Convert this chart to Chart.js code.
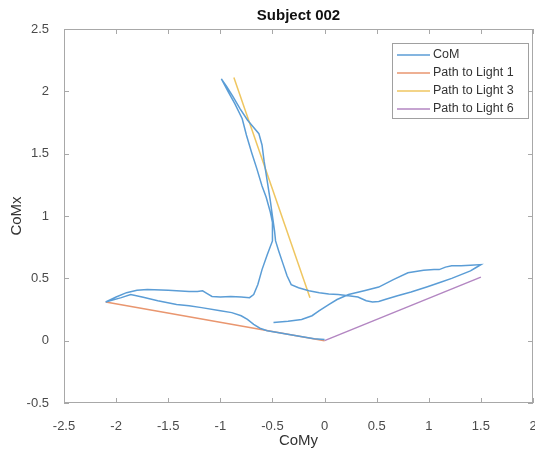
<!DOCTYPE html>
<html>
<head>
<meta charset="utf-8">
<script src="https://cdn.jsdelivr.net/npm/chart.js@4"></script>
<style>
  html, body { margin: 0; padding: 0; background: #fff; }
  #wrap { width: 535px; height: 451px; }
</style>
</head>
<body>
<div id="wrap"><canvas id="plot" width="535" height="451"></canvas></div>
<script>
// Axis ticks
const xTicks = [-2.5, -2, -1.5, -1, -0.5, 0, 0.5, 1, 1.5, 2];
const yTicks = [-0.5, 0, 0.5, 1, 1.5, 2, 2.5];

// CoM trajectory (horizontal = CoMy, vertical = CoMx)
const comMy = [
    0.0, -0.1, -0.2, -0.34, -0.45, -0.55, -0.62, -0.68, -0.74, -0.80, -0.89, -1.0, -1.18, -1.3, -1.42, -1.6, -1.75, -1.86, -1.95, -2.1,
    -2.0, -1.9, -1.8, -1.7, -1.5, -1.3, -1.22, -1.17, -1.13, -1.08, -1.0, -0.9, -0.8, -0.72, -0.68, -0.64, -0.60, -0.55, -0.50,
    -0.50, -0.52, -0.56, -0.60, -0.65, -0.70, -0.75, -0.79, -0.86, -0.92, -0.99,
    -0.94, -0.88, -0.81, -0.74, -0.68, -0.63, -0.60, -0.58, -0.55, -0.52, -0.50, -0.48, -0.47, -0.44, -0.40, -0.36, -0.32, -0.25, -0.15, -0.05,
    0.04, 0.13, 0.23, 0.32, 0.40, 0.46, 0.52, 0.58, 0.70, 0.83, 0.98, 1.12, 1.22, 1.31, 1.40, 1.45, 1.50,
    1.40, 1.31, 1.22, 1.16, 1.10, 1.05, 0.95, 0.80, 0.66, 0.52, 0.38, 0.23, 0.12, 0.04, -0.05, -0.12, -0.22, -0.35, -0.49
];
const comMx = [
    0.01, 0.015, 0.03, 0.05, 0.065, 0.08, 0.10, 0.13, 0.17, 0.20, 0.225, 0.24, 0.265, 0.28, 0.29, 0.32, 0.35, 0.37, 0.345, 0.31,
    0.35, 0.385, 0.405, 0.41, 0.405, 0.395, 0.395, 0.40, 0.38, 0.355, 0.35, 0.355, 0.35, 0.345, 0.37, 0.45, 0.57, 0.69, 0.80,
    0.95, 1.03, 1.15, 1.24, 1.38, 1.51, 1.65, 1.78, 1.90, 1.99, 2.10,
    2.04, 1.96, 1.86, 1.77, 1.71, 1.66, 1.57, 1.44, 1.28, 1.12, 1.00, 0.88, 0.80, 0.72, 0.62, 0.52, 0.45, 0.425, 0.40, 0.385,
    0.375, 0.37, 0.36, 0.35, 0.32, 0.31, 0.315, 0.33, 0.36, 0.39, 0.43, 0.47, 0.50, 0.53, 0.56, 0.585, 0.61,
    0.605, 0.60, 0.60, 0.59, 0.57, 0.57, 0.565, 0.545, 0.49, 0.43, 0.40, 0.37, 0.33, 0.29, 0.24, 0.20, 0.17, 0.155, 0.145
];

// Straight paths to the lights
const light1My = [0, -2.1];
const light1Mx = [0, 0.31];
const light3My = [-0.14, -0.87];
const light3Mx = [0.345, 2.11];
const light6My = [0, 1.5];
const light6Mx = [0, 0.51];

const seriesNames = ['CoM', 'Path to Light 1', 'Path to Light 3', 'Path to Light 6'];
const seriesColors = ['#5b9dd6', '#e9966f', '#efc660', '#b386c2'];

function toPoints(xs, ys) {
    return xs.map(function(v, i) { return {x: v, y: ys[i]}; });
}

const axisColor = '#a8a8a8';
const labelColor = '#4a4a4a';
const fontFamily = "'Liberation Sans', Arial, Helvetica, sans-serif";

// MATLAB-like box, inward ticks and legend
const matlabAxesPlugin = {
    id: 'matlabAxes',
    afterDatasetsDraw: (chart) => {
        const {ctx, chartArea: {top, bottom, left, right}, scales: {x, y}} = chart;
        ctx.save();
        ctx.strokeStyle = axisColor;
        ctx.lineWidth = 1;
        ctx.strokeRect(left + 0.5, top + 0.5, right - left - 1, bottom - top - 1);

        ctx.beginPath();
        xTicks.forEach(function(v) {
            const px = Math.round(x.getPixelForValue(v)) + 0.5;
            ctx.moveTo(px, bottom); ctx.lineTo(px, bottom - 5);
            ctx.moveTo(px, top); ctx.lineTo(px, top + 5);
        });
        yTicks.forEach(function(v) {
            const py = Math.round(y.getPixelForValue(v)) + 0.5;
            ctx.moveTo(left, py); ctx.lineTo(left + 5, py);
            ctx.moveTo(right, py); ctx.lineTo(right - 5, py);
        });
        ctx.stroke();

        // legend box
        const boxW = 136, boxH = 75;
        const bx = right - 5 - boxW, by = top + 14;
        ctx.fillStyle = '#fff';
        ctx.fillRect(bx, by, boxW, boxH);
        ctx.strokeStyle = '#a0a0a0';
        ctx.strokeRect(bx + 0.5, by + 0.5, boxW, boxH);
        ctx.font = '12.5px ' + fontFamily;
        ctx.textBaseline = 'middle';
        ctx.textAlign = 'left';
        chart.data.datasets.forEach(function(ds, i) {
            const ry = by + 12 + i * 18;
            ctx.strokeStyle = ds.borderColor;
            ctx.lineWidth = 1.5;
            ctx.beginPath();
            ctx.moveTo(bx + 5, ry);
            ctx.lineTo(bx + 38, ry);
            ctx.stroke();
            ctx.fillStyle = '#333';
            ctx.fillText(ds.label, bx + 41, ry);
        });
        ctx.restore();
    }
};

const datasets = [
    toPoints(comMy, comMx),
    toPoints(light1My, light1Mx),
    toPoints(light3My, light3Mx),
    toPoints(light6My, light6Mx)
].map(function(pts, i) {
    return {
        label: seriesNames[i],
        data: pts,
        borderColor: seriesColors[i],
        backgroundColor: seriesColors[i],
        borderWidth: 1.5,
        pointRadius: 0,
        tension: 0,
        fill: false
    };
});

const chartCtx = document.getElementById('plot').getContext('2d');
new Chart(chartCtx, {
    type: 'line',
    data: { datasets: datasets },
    options: {
        responsive: false,
        animation: false,
        layout: { padding: { top: 0, right: 2, bottom: 0, left: 0 } },
        plugins: {
            legend: { display: false },
            tooltip: { enabled: false },
            title: {
                display: true,
                text: 'Subject 002',
                fullSize: false,
                color: '#111',
                font: { family: fontFamily, size: 15, weight: 'bold' },
                padding: { top: 7, bottom: 4 }
            }
        },
        scales: {
            x: {
                type: 'linear',
                min: -2.5,
                max: 2,
                afterBuildTicks: (scale) => { scale.ticks = xTicks.map(v => ({value: v})); },
                afterFit: (scale) => { scale.height = 48; scale.paddingLeft = 0; scale.paddingRight = 0; },
                grid: { display: false },
                border: { display: false },
                ticks: {
                    autoSkip: false,
                    maxRotation: 0,
                    padding: 8,
                    color: labelColor,
                    font: { family: fontFamily, size: 13 },
                    callback: function(value) { return String(value); }
                },
                title: {
                    display: true,
                    text: 'CoMy',
                    color: '#333',
                    font: { family: fontFamily, size: 15 },
                    padding: { top: 0, bottom: 1 }
                }
            },
            y: {
                type: 'linear',
                min: -0.5,
                max: 2.5,
                afterBuildTicks: (scale) => { scale.ticks = yTicks.map(v => ({value: v})); },
                afterFit: (scale) => { scale.width = 64; scale.paddingTop = 0; scale.paddingBottom = 0; },
                grid: { display: false },
                border: { display: false },
                ticks: {
                    autoSkip: false,
                    padding: 7,
                    color: labelColor,
                    font: { family: fontFamily, size: 13 },
                    callback: function(value) { return String(value); }
                },
                title: {
                    display: true,
                    text: 'CoMx',
                    color: '#333',
                    font: { family: fontFamily, size: 15 },
                    padding: { top: 8, bottom: 0 }
                }
            }
        }
    },
    plugins: [matlabAxesPlugin]
});
</script>
</body>
</html>
